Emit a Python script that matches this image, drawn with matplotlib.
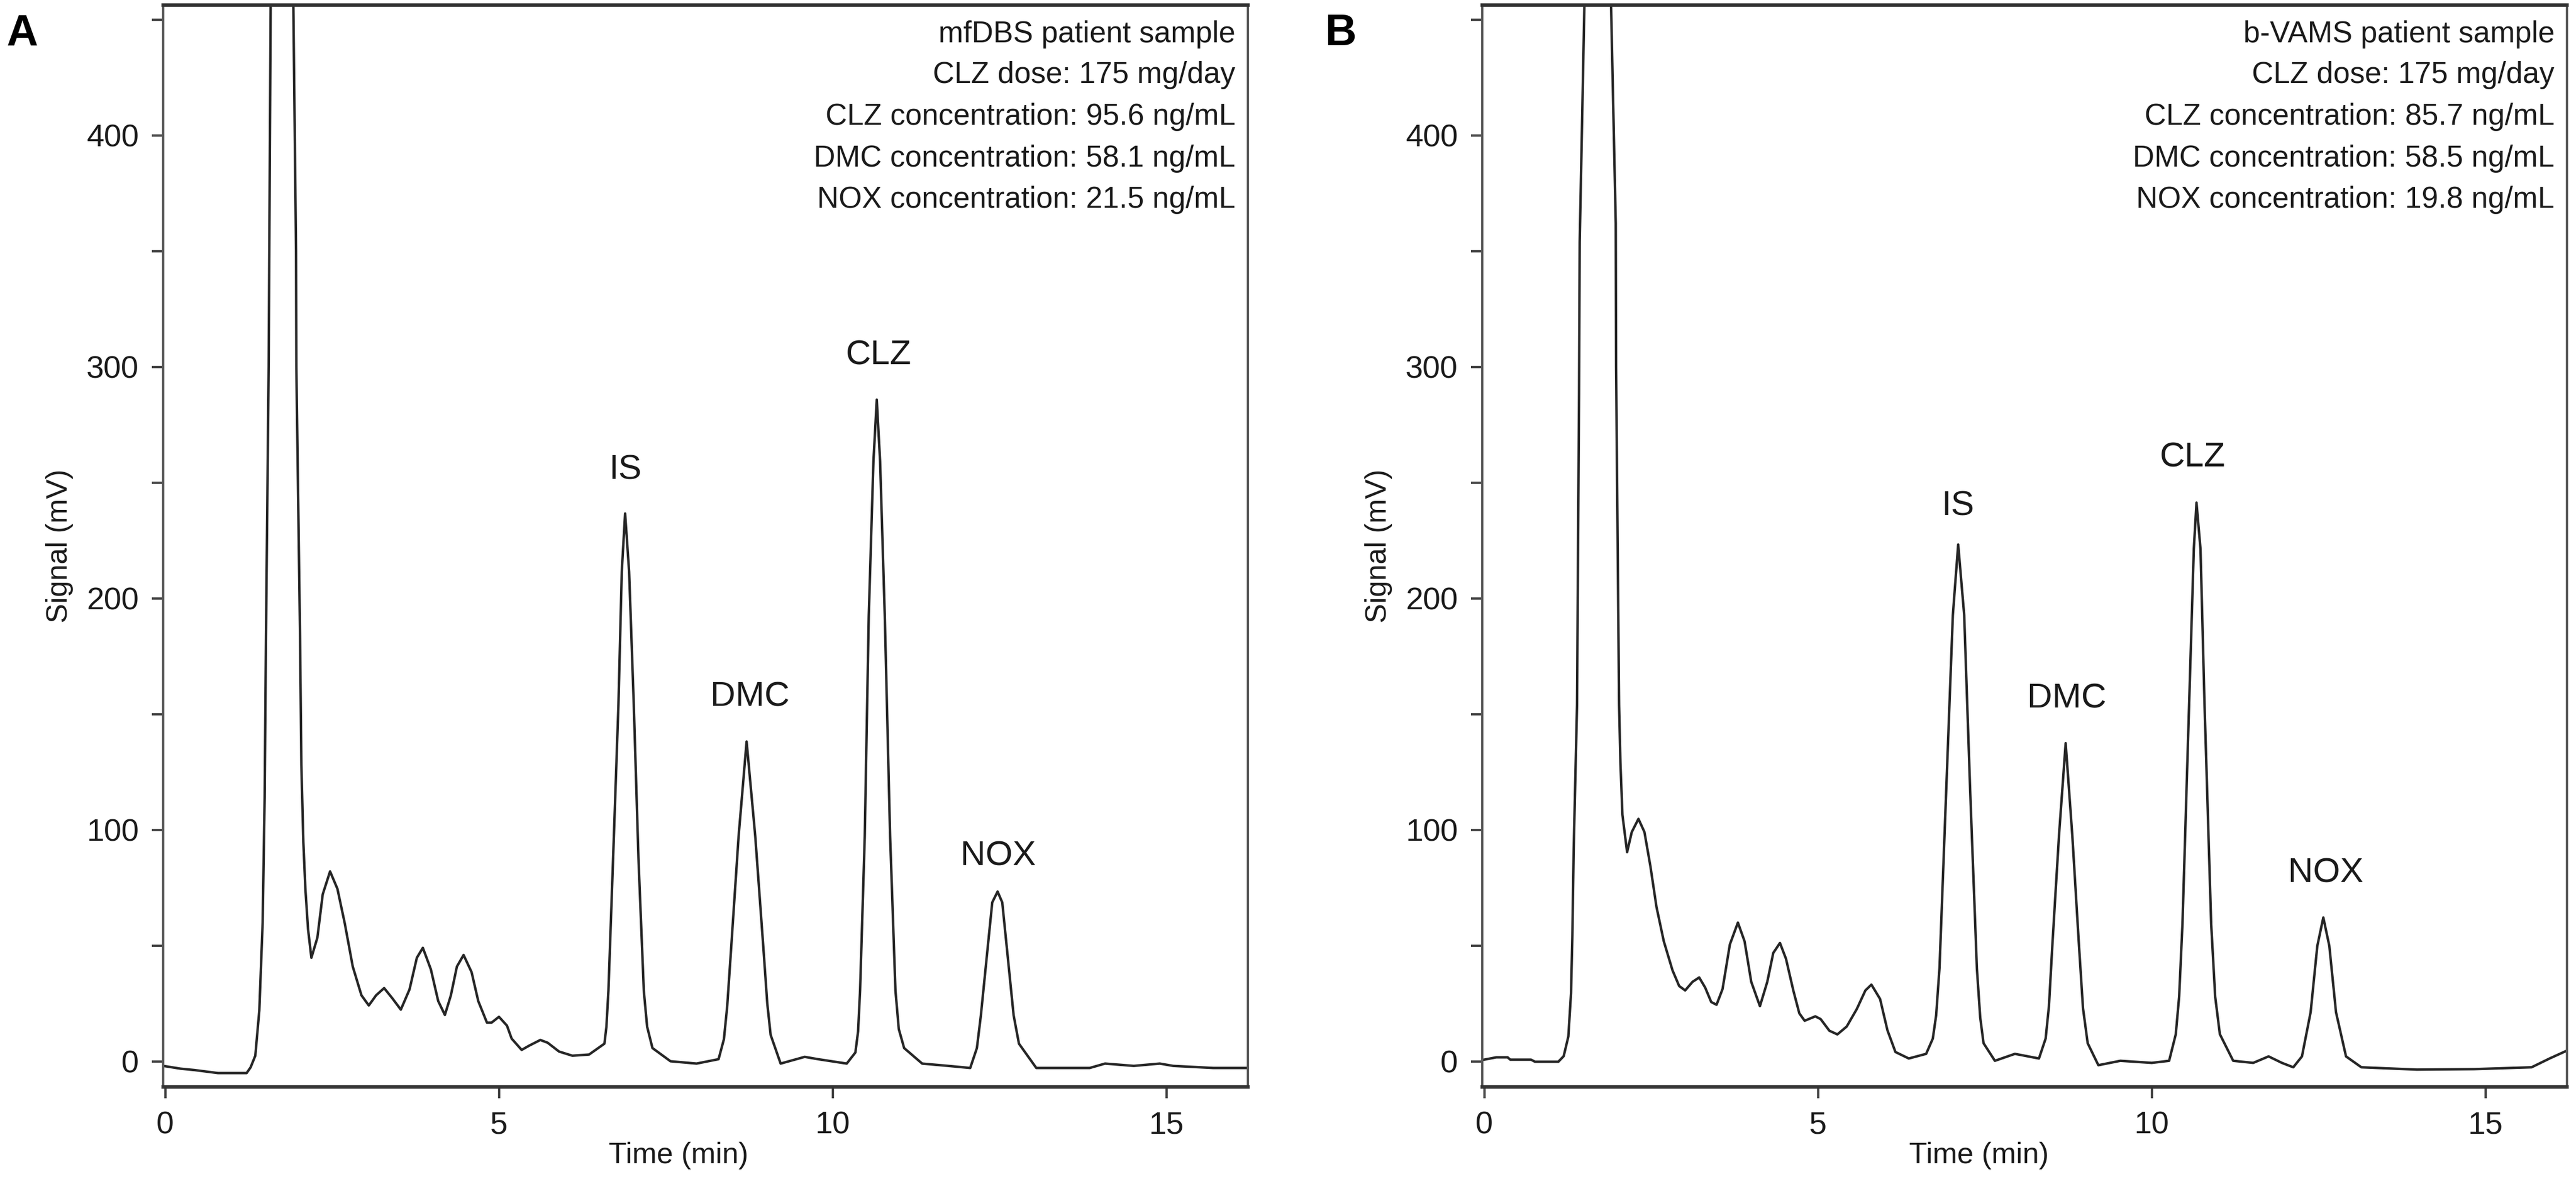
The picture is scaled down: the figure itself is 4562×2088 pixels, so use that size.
import matplotlib
matplotlib.use("Agg")
import matplotlib.pyplot as plt
from matplotlib.ticker import FixedLocator, FixedFormatter

plt.rcParams['font.family'] = ['Liberation Sans', 'DejaVu Sans']

# ---------------- data ----------------
# Panel A: mfDBS patient sample (time in min, signal in mV); 1000 = off-scale solvent front
time_a = [-0.03, 0.23, 0.44, 0.79, 1.22, 1.28, 1.35, 1.41, 1.46, 1.49, 1.51, 1.55, 1.58,
          1.75, 1.92, 1.96, 1.965, 2.02, 2.04, 2.07, 2.10, 2.14, 2.19, 2.28, 2.36, 2.47,
          2.58, 2.69, 2.81, 2.94, 3.05, 3.16, 3.28, 3.40, 3.53, 3.66, 3.77, 3.86, 3.98,
          4.09, 4.19, 4.28, 4.37, 4.47, 4.59, 4.69, 4.82, 4.89, 5.00, 5.12, 5.19, 5.34,
          5.45, 5.62, 5.73, 5.90, 6.10, 6.35, 6.58, 6.61, 6.64, 6.71, 6.79, 6.84, 6.89, 6.95,
          7.02, 7.09, 7.17, 7.22, 7.30, 7.57, 7.96, 8.29, 8.37, 8.42, 8.48, 8.59, 8.71, 8.84,
          8.96, 9.02, 9.07, 9.22, 9.58, 9.78, 10.21, 10.34, 10.38, 10.41, 10.48, 10.54, 10.61,
          10.66, 10.71, 10.78, 10.86, 10.94, 10.99, 11.07, 11.34, 11.73, 12.06, 12.16, 12.22,
          12.29, 12.39, 12.47, 12.54, 12.64, 12.71, 12.79, 13.05, 13.85, 14.08, 14.51, 14.90,
          15.10, 15.70, 16.19]
signal_a = [-1.9, -3.1, -3.7, -5.0, -5.0, -2.5, 2.5, 22, 60, 114, 184, 300, 456,
            1000, 456, 350, 300, 184, 128, 94.6, 74.6, 57.2, 44.8, 53.5, 72.2, 82.1,
            74.6, 59.7, 41, 28.6, 24.2, 28.6, 31.7, 27.4, 22.4, 31.1, 44.8, 49.1, 39.8,
            26.1, 20.1, 28.6, 41, 46, 38.6, 26.1, 16.8, 16.8, 19.3, 15.5, 9.9, 5.0,
            6.8, 9.3, 8.1, 4.3, 2.5, 3.0, 7.7, 15.0, 30.6, 87.7, 154, 211.6, 236.7, 211.6,
            154, 87.7, 30.6, 15.0, 5.8, 0.1, -0.9, 1.0, 9.6, 24.0, 49.6, 97.2, 138.2, 97.2,
            49.6, 25.0, 11.5, -0.9, 2.0, 1.0, -0.9, 3.9, 13.0, 30.6, 97.2, 192.5, 259.2,
            285.9, 259.2, 192.5, 97.2, 30.6, 14.0, 5.8, -0.9, -1.9, -2.8, 5.8, 20.0,
            40.1, 68.7, 73.4, 68.7, 40.1, 20.0, 7.7, -2.8, -2.8, -0.9, -1.9, -0.9,
            -1.9, -2.8, -2.8]

# Panel B: b-VAMS patient sample
time_b = [0.00, 0.18, 0.35, 0.39, 0.70, 0.76, 1.11, 1.19, 1.26, 1.30, 1.32, 1.34, 1.37,
          1.39, 1.42, 1.43, 1.50, 1.70, 1.90, 1.97, 1.975, 2.02, 2.04, 2.07, 2.14, 2.21,
          2.31, 2.40, 2.49, 2.58, 2.69, 2.82, 2.92, 3.01, 3.12, 3.22, 3.31, 3.40, 3.48,
          3.57, 3.68, 3.80, 3.90, 4.00, 4.13, 4.24, 4.33, 4.43, 4.52, 4.63, 4.72, 4.80,
          4.96, 5.04, 5.17, 5.29, 5.43, 5.58, 5.71, 5.80, 5.93, 6.04, 6.16, 6.36, 6.62,
          6.72, 6.77, 6.82, 6.92, 7.02, 7.10, 7.19, 7.28, 7.38, 7.43, 7.48, 7.65, 7.95, 8.31,
          8.41, 8.46, 8.51, 8.61, 8.71, 8.81, 8.91, 8.97, 9.04, 9.20, 9.53, 10.00, 10.26,
          10.36, 10.41, 10.46, 10.56, 10.63, 10.67, 10.73, 10.79, 10.89, 10.95, 11.02, 11.22,
          11.52, 11.75, 11.95, 12.12, 12.25, 12.38, 12.48, 12.57, 12.66, 12.76, 12.91, 13.14,
          13.97, 14.83, 15.69, 15.96, 16.25]
signal_b = [0.8, 1.8, 1.8, 0.8, 0.8, -0.1, -0.1, 2.3, 10.8, 29.5, 54.3, 91.7, 129,
            154, 288, 354, 456, 1000, 456, 362, 300, 154, 129, 106.6, 90.4, 99.1,
            104.8, 99.1, 84.2, 66.8, 51.9, 39.4, 32.6, 30.7, 34.4, 36.3, 31.9, 25.7, 24.5,
            31.3, 50.6, 60.0, 51.9, 34.4, 23.9, 34.4, 46.9, 51.2, 44.4, 30.7, 20.8, 17.6,
            19.5, 18.3, 13.3, 11.7, 15.1, 22.6, 30.7, 33.2, 27.0, 13.5, 4.1, 1.3, 3.3,
            9.9, 20.0, 40.3, 116.6, 192.8, 223.3, 192.8, 116.6, 40.3, 19.0, 7.9, 0.3, 3.3, 1.3,
            9.9, 24.0, 49.9, 97.5, 137.5, 97.5, 49.9, 23.0, 7.9, -1.6, 0.3, -0.6, 0.3,
            11.8, 28.0, 59.4, 154.7, 221.4, 241.4, 221.4, 154.7, 59.4, 28.0, 11.8, 0.3,
            -0.6, 2.2, -0.6, -2.5, 2.2, 21.3, 49.9, 62.2, 49.9, 21.3, 2.2, -2.5,
            -3.5, -3.3, -2.5, 1.3, 5.1]

peak_names = ["IS", "DMC", "CLZ", "NOX"]
label_time_a = [6.89, 8.76, 10.69, 12.48]
label_signal_a = [251.6, 153.5, 301.0, 84.8]
label_time_b = [7.10, 8.73, 10.61, 12.61]
label_signal_b = [236.0, 152.8, 257.0, 77.5]

info_a = ["mfDBS patient sample", "CLZ dose: 175 mg/day", "CLZ concentration: 95.6 ng/mL",
          "DMC concentration: 58.1 ng/mL", "NOX concentration: 21.5 ng/mL"]
info_b = ["b-VAMS patient sample", "CLZ dose: 175 mg/day", "CLZ concentration: 85.7 ng/mL",
          "DMC concentration: 58.5 ng/mL", "NOX concentration: 19.8 ng/mL"]

x_ticks = [0, 5, 10, 15]
y_ticks = [0, 50, 100, 150, 200, 250, 300, 350, 400, 450]
y_tick_labels = ["0", "", "100", "", "200", "", "300", "", "400", ""]
panel_letters = ["A", "B"]
x_label = "Time (min)"
y_label = "Signal (mV)"

# ---------------- layout ----------------
W, H, DPI = 4562, 2088, 300
fig = plt.figure(figsize=(W / DPI, H / DPI), dpi=DPI)

ax_w = 1921 / W
ax_h = (1925 - 9) / H
ax_b = 1 - 1925 / H
axes = [fig.add_axes([289 / W, ax_b, ax_w, ax_h]),
        fig.add_axes([2625 / W, ax_b, ax_w, ax_h])]

traces = [(time_a, signal_a), (time_b, signal_b)]
labels = [(label_time_a, label_signal_a), (label_time_b, label_signal_b)]
infos = [info_a, info_b]
xlabel_x = [0.475, 0.458]
letter_x = [11, 2347]

trace_color = "#262626"
text_color = "#1a1a1a"
baselines_px = [75, 147, 221, 295, 368]

for i, ax in enumerate(axes):
    t, s = traces[i]
    ax.plot(t, s, color=trace_color, lw=1.05, solid_joinstyle="round")
    ax.set_xlim(-0.03, 16.22)
    ax.set_ylim(-11, 456.3)

    ax.xaxis.set_major_locator(FixedLocator(x_ticks))
    ax.yaxis.set_major_locator(FixedLocator(y_ticks))
    ax.yaxis.set_major_formatter(FixedFormatter(y_tick_labels))
    ax.tick_params(axis="both", direction="out", length=4.8, width=1.0,
                   color="#444444", labelsize=13.4, labelcolor=text_color, pad=5.5)

    for side in ["left", "right"]:
        ax.spines[side].set_linewidth(1.0)
        ax.spines[side].set_color("#5a5a5a")
    for side in ["top", "bottom"]:
        ax.spines[side].set_linewidth(1.5)
        ax.spines[side].set_color("#333333")

    ax.set_xlabel(x_label, fontsize=12.5, color=text_color)
    ax.xaxis.set_label_coords(xlabel_x[i], (1925 - 2022) / 1916)
    ax.xaxis.label.set_va("top")
    ax.set_ylabel(y_label, fontsize=12.5, color=text_color)
    ax.yaxis.set_label_coords((130 - 289) / 1921, 0.5)

    lt, ls = labels[i]
    for name, xx, yy in zip(peak_names, lt, ls):
        ax.text(xx, yy, name, ha="center", va="baseline", fontsize=14.8, color=text_color)

    for line, bpx in zip(infos[i], baselines_px):
        ax.text(1 - 22 / 1921, (1925 - bpx) / 1916, line, transform=ax.transAxes,
                ha="right", va="baseline", fontsize=12.7, color=text_color)

    fig.text(letter_x[i] / W, 1 - 80 / H, panel_letters[i], ha="left", va="baseline",
             fontsize=18.5, fontweight="bold", color="black")

fig.savefig("out.png", dpi=DPI, facecolor="white")
